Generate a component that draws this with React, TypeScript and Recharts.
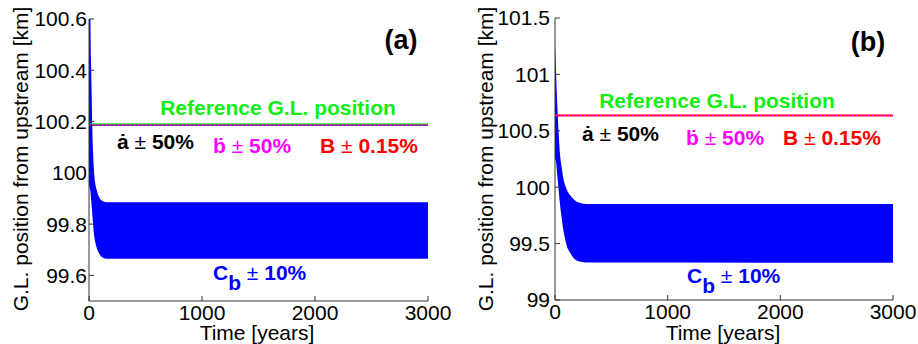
import { ComposedChart, Area, XAxis, YAxis, ReferenceLine } from "recharts";

// panel (a): envelope of the C_b run (years, km)
const timeA = [0, 12, 18, 24, 29, 36, 44, 55, 70, 90, 120, 160, 3000];
const upperA = [100.6, 100.6, 100.44, 100.3, 100.18, 100.08, 100.01, 99.96, 99.93, 99.905, 99.89, 99.885, 99.885];
const lowerA = [99.95, 99.93, 99.9, 99.87, 99.84, 99.8, 99.76, 99.73, 99.705, 99.685, 99.67, 99.665, 99.665];
const refGreenA = 100.191;
const refA = 100.186;
const yTicksA = [99.6, 99.8, 100, 100.2, 100.4, 100.6];

// panel (b)
const timeB = [0, 10, 21, 30, 44, 60, 74, 90, 104, 133, 163, 193, 230, 280, 3000];
const upperB = [101.27, 101.0, 100.72, 100.52, 100.3, 100.17, 100.08, 100.02, 99.98, 99.93, 99.895, 99.87, 99.858, 99.852, 99.85];
const lowerB = [100.25, 100.22, 100.1, 100.0, 99.85, 99.72, 99.62, 99.54, 99.48, 99.42, 99.375, 99.35, 99.338, 99.332, 99.33];
const refB = 100.635;
const yTicksB = [99, 99.5, 100, 100.5, 101, 101.5];

const xTicks = [0, 1000, 2000, 3000];

const font = '"Liberation Sans", Arial, Helvetica, sans-serif';
const tickStyle = { fill: "#000", fontSize: 21, fontFamily: font };

function toRows(t: number[], lo: number[], hi: number[]) {
  return t.map((v, i) => ({ t: v, band: [lo[i], hi[i]] }));
}

type PanelProps = {
  left: number;
  width: number;
  rows: { t: number; band: number[] }[];
  domain: [number, number];
  yTicks: number[];
  yAxisWidth: number;
  marginTop: number;
  marginRight: number;
  xHeight: number;
  yGap: number;
  children?: React.ReactNode;
};

function Panel(p: PanelProps) {
  return (
    <div style={{ position: "absolute", left: p.left, top: 0 }}>
      <ComposedChart
        width={p.width}
        height={344}
        data={p.rows}
        margin={{ top: p.marginTop, right: p.marginRight, bottom: 0, left: 0 }}
      >
        <XAxis
          type="number"
          dataKey="t"
          domain={[0, 3000]}
          ticks={xTicks}
          interval={0}
          height={p.xHeight}
          tickSize={-5}
          tickMargin={9}
          stroke="#333"
          tick={tickStyle}
          allowDataOverflow
        />
        <YAxis
          type="number"
          domain={p.domain}
          ticks={p.yTicks}
          interval={0}
          width={p.yAxisWidth}
          tickSize={-5}
          tickMargin={p.yGap}
          stroke="#333"
          tick={tickStyle}
          allowDataOverflow
        />
        <Area
          dataKey="band"
          type="monotone"
          stroke="none"
          fill="#0000ff"
          fillOpacity={1}
          isAnimationActive={false}
        />
        {p.children}
      </ComposedChart>
    </div>
  );
}

function Labels() {
  const bold = { fontFamily: font, fontWeight: 700, fontSize: 21 };
  const pm = <tspan fontWeight={400}> ± </tspan>;
  return (
    <svg
      width={918}
      height={344}
      style={{ position: "absolute", left: 0, top: 0, pointerEvents: "none" }}
    >
      {/* panel (a) */}
      <text x={401} y={49} textAnchor="middle" style={{ ...bold, fontSize: 27 }}>(a)</text>
      <text x={278} y={115} textAnchor="middle" fill="#11ee11" style={bold}>Reference G.L. position</text>
      <text x={117} y={149} fill="#000" style={bold}>ȧ{pm}50%</text>
      <text x={213} y={153} fill="#ff00ff" style={bold}>ḃ{pm}50%</text>
      <text x={320} y={153} fill="#ff0000" style={bold}>B{pm}0.15%</text>
      <text x={213} y={280} fill="#0000ff" style={bold}>
        C<tspan dy={10}>b</tspan><tspan dy={-10} fontWeight={400}> ± </tspan>10%
      </text>
      <text x={257} y={340} textAnchor="middle" style={{ fontFamily: font, fontSize: 21 }}>Time [years]</text>
      <text
        transform="translate(28,159) rotate(-90)"
        textAnchor="middle"
        style={{ fontFamily: font, fontSize: 21 }}
      >
        G.L. position from upstream [km]
      </text>

      {/* panel (b) */}
      <text x={868} y={51} textAnchor="middle" style={{ ...bold, fontSize: 27 }}>(b)</text>
      <text x={717} y={108} textAnchor="middle" fill="#11ee11" style={bold}>Reference G.L. position</text>
      <text x={582} y={141} fill="#000" style={bold}>ȧ{pm}50%</text>
      <text x={686} y={145} fill="#ff00ff" style={bold}>ḃ{pm}50%</text>
      <text x={783} y={145} fill="#ff0000" style={bold}>B{pm}0.15%</text>
      <text x={687} y={283} fill="#0000ff" style={bold}>
        C<tspan dy={10}>b</tspan><tspan dy={-10} fontWeight={400}> ± </tspan>10%
      </text>
      <text x={723} y={340} textAnchor="middle" style={{ fontFamily: font, fontSize: 21 }}>Time [years]</text>
      <text
        transform="translate(493,159) rotate(-90)"
        textAnchor="middle"
        style={{ fontFamily: font, fontSize: 21 }}
      >
        G.L. position from upstream [km]
      </text>
    </svg>
  );
}

export default function App() {
  return (
    <div style={{ position: "absolute", left: 0, top: 0, width: 918, height: 344, background: "#fff" }}>
      <Panel
        left={0}
        width={460}
        rows={toRows(timeA, lowerA, upperA)}
        domain={[99.5, 100.6]}
        yTicks={yTicksA}
        yAxisWidth={89}
        marginTop={19}
        marginRight={32}
        xHeight={43}
        yGap={7}
      >
        <ReferenceLine y={refGreenA} stroke="#11ee11" strokeWidth={1} />
        <ReferenceLine y={refA} stroke="#000" strokeWidth={1.4} />
        <ReferenceLine y={refA} stroke="#ff00ff" strokeWidth={1.4} strokeDasharray="2 2" />
      </Panel>
      <Panel
        left={460}
        width={458}
        rows={toRows(timeB, lowerB, upperB)}
        domain={[99, 101.5]}
        yTicks={yTicksB}
        yAxisWidth={95}
        marginTop={18}
        marginRight={25}
        xHeight={44}
        yGap={10}
      >
        <ReferenceLine y={refB} stroke="#ff0000" strokeWidth={2} />
        <ReferenceLine y={refB} stroke="#ff00ff" strokeWidth={1.4} strokeDasharray="2 2" />
      </Panel>
      <Labels />
    </div>
  );
}
